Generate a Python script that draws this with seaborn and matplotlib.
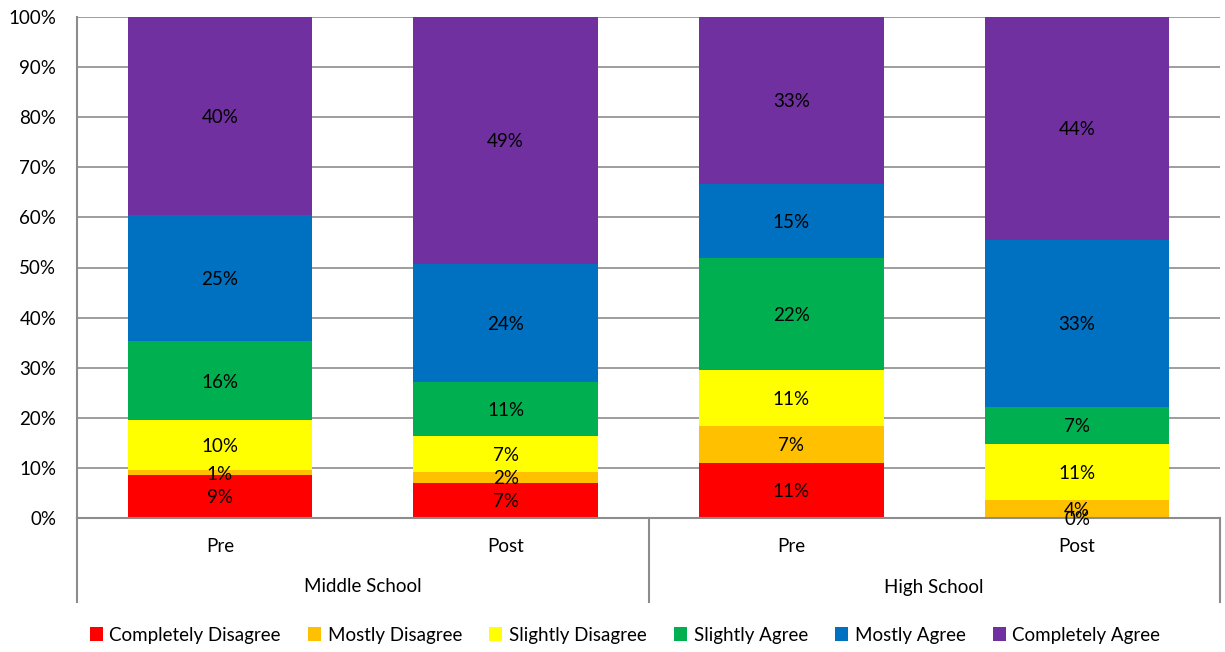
import numpy as np
import pandas as pd
import matplotlib
matplotlib.use("Agg")
import matplotlib.pyplot as plt
import matplotlib.transforms as mtransforms
from matplotlib.patches import Patch
import seaborn as sns

# Survey response shares (%) per school level and time point
groups = ["Middle School", "Middle School", "High School", "High School"]
phases = ["Pre", "Post", "Pre", "Post"]
responses = ["Completely Disagree", "Mostly Disagree", "Slightly Disagree",
             "Slightly Agree", "Mostly Agree", "Completely Agree"]
completely_disagree = [8.6, 7.0, 11.0, 0.0]
mostly_disagree = [0.9, 2.2, 7.4, 3.6]
slightly_disagree = [10.0, 7.2, 11.1, 11.2]
slightly_agree = [15.8, 10.7, 22.4, 7.4]
mostly_agree = [25.1, 23.6, 14.8, 33.3]
completely_agree = [39.6, 49.3, 33.3, 44.5]
colors = ["#FF0000", "#FFC000", "#FFFF00", "#00B050", "#0070C0", "#7030A0"]
y_ticks = [0, 10, 20, 30, 40, 50, 60, 70, 80, 90, 100]

series = [completely_disagree, mostly_disagree, slightly_disagree,
          slightly_agree, mostly_agree, completely_agree]
keys = [f"{g}|{p}" for g, p in zip(groups, phases)]

rows = []
for resp, vals in zip(responses, series):
    for k, v in zip(keys, vals):
        rows.append({"bar": k, "response": resp, "value": v})
df = pd.DataFrame(rows)
df["top"] = df.groupby("bar")["value"].cumsum()
df["bottom"] = df["top"] - df["value"]

plt.rcParams["font.family"] = ["Lato", "DejaVu Sans"]
fig = plt.figure(figsize=(12.25, 6.52), dpi=100)
ax = fig.add_axes([77 / 1225, 1 - 518 / 652, (1220 - 77) / 1225, (518 - 17) / 652])

# Stacked bars: draw cumulative heights from the top layer down
for resp, col in reversed(list(zip(responses, colors))):
    sub = df[df["response"] == resp]
    sns.barplot(data=sub, x="bar", y="top", order=keys, color=col,
                width=0.645, saturation=1, ax=ax, zorder=2, linewidth=0)

# Segment labels centered in each segment
for _, r in df.iterrows():
    xi = keys.index(r["bar"])
    ax.text(xi, (r["top"] + r["bottom"]) / 2, f"{r['value']:.0f}%",
            ha="center", va="center_baseline", fontsize=13.5, color="black", zorder=5)

ax.set_xlim(-0.5, 3.5)
ax.set_ylim(0, 100)
ax.set_yticks(y_ticks)
ax.set_yticklabels([f"{t}%" for t in y_ticks], fontsize=13.5)
ax.yaxis.grid(True, color="#8c8c8c", linewidth=1.2, zorder=0)
ax.set_axisbelow(True)
ax.tick_params(axis="y", length=0, pad=15)
ax.tick_params(axis="x", length=0, labelbottom=False)
ax.set_xlabel("")
ax.set_ylabel("")
for s in ["top", "right"]:
    ax.spines[s].set_visible(False)
for s in ["left", "bottom"]:
    ax.spines[s].set_color("#8c8c8c")
    ax.spines[s].set_linewidth(1.5)

# Two-level category axis below the plot
trans = mtransforms.blended_transform_factory(ax.transData, ax.transAxes)
ax_h = 518 - 17
for i, p in enumerate(phases):
    ax.text(i, -28 / ax_h, p, transform=trans, ha="center", va="center", fontsize=13.5)
group_names = list(dict.fromkeys(groups))
for j, g in enumerate(group_names):
    idx = [i for i, gg in enumerate(groups) if gg == g]
    ax.text(np.mean(idx), -69 / ax_h, g, transform=trans, ha="center", va="center",
            fontsize=13.5)
for xs in [-0.5, 1.5, 3.5]:
    ax.plot([xs, xs], [0, -84 / ax_h], transform=trans, color="#8c8c8c",
            linewidth=1.5, clip_on=False)

handles = [Patch(facecolor=c, edgecolor="none", label=r) for r, c in zip(responses, colors)]
fig.legend(handles=handles, loc="center", bbox_to_anchor=(625 / 1225, 1 - 635 / 652),
           ncol=6, frameon=False, fontsize=13.5, handlelength=0.7, handleheight=0.7,
           handletextpad=0.35, columnspacing=1.45)

fig.savefig("out.png", dpi=100)
